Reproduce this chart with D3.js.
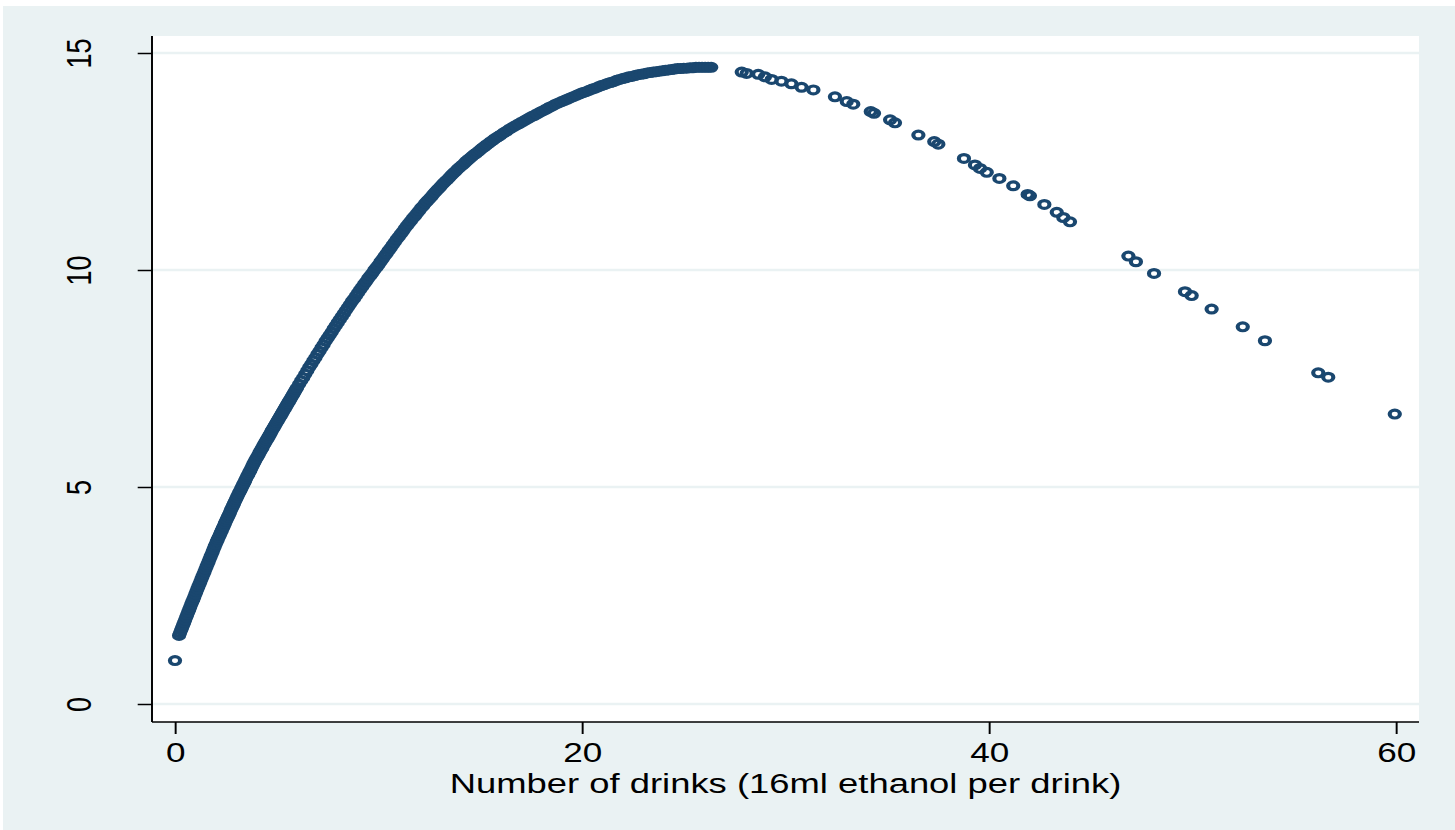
<!DOCTYPE html>
<html>
<head>
<meta charset="utf-8">
<title>Number of drinks</title>
<script src="https://d3js.org/d3.v7.min.js"></script>
<style>
  body { margin: 0; background: #fff; }
  text { font-family: "Liberation Sans", Arial, Helvetica, sans-serif; fill: #000; }
  .grid line { stroke: #eaf2f3; stroke-width: 2.5; }
  .axis .domain { display: none; }
  .axis line { stroke: #000; stroke-width: 1.5; }
  .axis text { font-size: 27px; }
  .frame { stroke: #000; stroke-width: 1.5; }
  .dot { fill: none; stroke: #1a476f; stroke-width: 3.2; }
  .title { font-size: 28px; }
</style>
</head>
<body>
<script>
// values: [drinks, predicted value]
var abstainers = [[0, 1.0]];

var risingPart = [
  [0.20,1.58],[0.25,1.64],[0.30,1.70],[0.35,1.76],[0.40,1.82],[0.45,1.88],[0.50,1.94],[0.55,2.00],[0.60,2.06],[0.65,2.12],
  [0.70,2.18],[0.75,2.24],[0.80,2.30],[0.85,2.36],[0.90,2.41],[0.95,2.47],[1.00,2.53],[1.05,2.59],[1.10,2.65],[1.15,2.71],
  [1.20,2.76],[1.25,2.82],[1.30,2.88],[1.35,2.94],[1.40,2.99],[1.45,3.05],[1.50,3.11],[1.55,3.17],[1.60,3.22],[1.65,3.28],
  [1.70,3.34],[1.75,3.40],[1.80,3.45],[1.85,3.51],[1.90,3.57],[1.95,3.63],[2.00,3.68],[2.05,3.74],[2.10,3.79],[2.15,3.84],
  [2.20,3.89],[2.25,3.95],[2.30,4.00],[2.35,4.05],[2.40,4.10],[2.45,4.16],[2.50,4.21],[2.55,4.26],[2.60,4.31],[2.65,4.36],
  [2.70,4.41],[2.75,4.47],[2.80,4.52],[2.85,4.57],[2.90,4.62],[2.95,4.67],[3.00,4.72],[3.05,4.77],[3.10,4.82],[3.15,4.87],
  [3.20,4.91],[3.25,4.96],[3.30,5.01],[3.35,5.06],[3.40,5.10],[3.45,5.15],[3.50,5.20],[3.55,5.25],[3.60,5.29],[3.65,5.34],
  [3.70,5.38],[3.75,5.43],[3.80,5.48],[3.85,5.53],[3.90,5.57],[3.95,5.62],[4.00,5.66],[4.05,5.70],[4.10,5.74],[4.15,5.79],
  [4.20,5.83],[4.25,5.87],[4.30,5.91],[4.35,5.96],[4.40,6.00],[4.45,6.04],[4.50,6.08],[4.55,6.12],[4.60,6.16],[4.65,6.20],
  [4.70,6.24],[4.75,6.29],[4.80,6.33],[4.85,6.37],[4.90,6.41],[4.95,6.45],[5.00,6.49],[5.05,6.53],[5.10,6.57],[5.15,6.61],
  [5.20,6.65],[5.25,6.69],[5.30,6.73],[5.35,6.77],[5.40,6.81],[5.45,6.85],[5.50,6.89],[5.55,6.93],[5.60,6.97],[5.65,7.01],
  [5.70,7.05],[5.75,7.09],[5.80,7.13],[5.85,7.17],[5.90,7.21],[5.95,7.25],[6.00,7.29]
];

var middlePart = [
  [6.1,7.37],[6.2,7.45],[6.3,7.52],[6.4,7.60],[6.5,7.68],[6.6,7.76],[6.7,7.83],[6.8,7.91],[6.9,7.98],[7.0,8.06],
  [7.1,8.13],[7.2,8.21],[7.3,8.28],[7.4,8.36],[7.5,8.43],[7.6,8.50],[7.7,8.57],[7.8,8.65],[7.9,8.72],[8.0,8.79],
  [8.1,8.86],[8.2,8.93],[8.3,9.00],[8.4,9.07],[8.5,9.14],[8.6,9.21],[8.7,9.28],[8.8,9.34],[8.9,9.41],[9.0,9.48],
  [9.1,9.55],[9.2,9.61],[9.3,9.68],[9.4,9.74],[9.5,9.81],[9.6,9.87],[9.7,9.93],[9.8,10.00],[9.9,10.06],[10.0,10.12],
  [10.1,10.19],[10.2,10.25],[10.3,10.32],[10.4,10.38],[10.5,10.45],[10.6,10.51],[10.7,10.58],[10.8,10.64],[10.9,10.71],[11.0,10.77],
  [11.1,10.83],[11.2,10.89],[11.3,10.96],[11.4,11.02],[11.5,11.08],[11.6,11.14],[11.7,11.20],[11.8,11.25],[11.9,11.31],[12.0,11.37],
  [12.1,11.43],[12.2,11.48],[12.3,11.54],[12.4,11.59],[12.5,11.64],[12.6,11.69],[12.7,11.75],[12.8,11.80],[12.9,11.85],[13.0,11.90],
  [13.1,11.95],[13.2,12.00],[13.3,12.05],[13.4,12.09],[13.5,12.14],[13.6,12.19],[13.7,12.24],[13.8,12.28],[13.9,12.33],[14.0,12.37],
  [14.1,12.41],[14.2,12.45],[14.3,12.50],[14.4,12.54],[14.5,12.58],[14.6,12.62],[14.7,12.66],[14.8,12.69],[14.9,12.73],[15.0,12.77],
  [15.1,12.81],[15.2,12.84],[15.3,12.88],[15.4,12.91],[15.5,12.95],[15.6,12.98],[15.7,13.02],[15.8,13.05],[15.9,13.08],[16.0,13.11]
];

var bendPart = [
  [16.15,13.16],[16.30,13.20],[16.45,13.25],[16.60,13.29],[16.75,13.33],[16.90,13.37],[17.05,13.41],[17.20,13.45],[17.35,13.49],
  [17.50,13.53],[17.65,13.56],[17.80,13.60],[17.95,13.64],[18.10,13.67],[18.25,13.71],[18.40,13.75],[18.55,13.78],[18.70,13.82],
  [18.85,13.85],[19.00,13.88],[19.15,13.91],[19.30,13.94],[19.45,13.97],[19.60,14.00],[19.75,14.03],[19.90,14.06],[20.05,14.09]
];

var peakPart = [
  [20.20,14.11],[20.35,14.14],[20.50,14.17],[20.65,14.19],[20.80,14.22],[20.95,14.25],[21.10,14.27],[21.25,14.30],[21.40,14.32],
  [21.55,14.34],[21.70,14.37],[21.85,14.39],[22.00,14.41],[22.15,14.43],[22.30,14.45],[22.45,14.46],[22.60,14.48],[22.75,14.50],
  [22.90,14.51],[23.05,14.52],[23.20,14.54],[23.35,14.55],[23.50,14.56],[23.65,14.57],[23.80,14.58],[23.95,14.59],[24.10,14.60],
  [24.25,14.61],[24.40,14.62],[24.55,14.63],[24.70,14.64],[24.85,14.64],[25.00,14.65],[25.15,14.65],[25.30,14.66],[25.45,14.66],
  [25.60,14.67],[25.75,14.67],[25.90,14.67],[26.05,14.67],[26.20,14.67],[26.35,14.67]
];

var tailPart = [
  [27.85,14.56],[28.09,14.53],[28.66,14.51],[28.99,14.45],[29.32,14.39],[29.80,14.35],[30.29,14.29],[30.79,14.21],
  [31.37,14.15],[32.43,13.99],[33.01,13.88],[33.33,13.82],[34.19,13.65],[34.35,13.61],[35.14,13.46],[35.38,13.39],
  [36.53,13.11],[37.31,12.96],[37.51,12.90],[38.77,12.57],[39.31,12.42],[39.56,12.34],[39.89,12.25],[40.51,12.11],
  [41.19,11.94],[41.90,11.74],[42.01,11.71],[42.72,11.51],[43.33,11.33],[43.65,11.21],[43.98,11.11],
  [46.85,10.32],[47.22,10.19],[48.11,9.92],[49.63,9.50],[49.96,9.41],[50.94,9.10],[52.47,8.69],[53.56,8.37],
  [56.18,7.63],[56.67,7.53],[59.94,6.68]
];

var xTicks = [0, 20, 40, 60];
var yTicks = [0, 5, 10, 15];
var xTitle = "Number of drinks (16ml ethanol per drink)";

// the picture is stretched sideways, so draw in a narrower space and let the viewBox widen it
var stretch = 1.3,
    width = 1455,
    height = 830,
    innerW = width / stretch;

var plot = { left: 152 / stretch, right: 1419 / stretch, top: 36, bottom: 722 };

var svg = d3.select("body").append("svg")
    .attr("width", width)
    .attr("height", height)
    .attr("viewBox", "0 0 " + innerW + " " + height)
    .attr("preserveAspectRatio", "none");

svg.append("rect")
    .attr("x", 3 / stretch)
    .attr("y", 6)
    .attr("width", innerW)
    .attr("height", height)
    .attr("fill", "#eaf2f3");

svg.append("rect")
    .attr("x", plot.left)
    .attr("y", plot.top)
    .attr("width", plot.right - plot.left)
    .attr("height", plot.bottom - plot.top)
    .attr("fill", "#fff");

var x = d3.scaleLinear()
    .domain([0, 60])
    .range([175 / stretch, 1396 / stretch]);

var y = d3.scaleLinear()
    .domain([0, 15])
    .range([704, 53]);

svg.append("g")
    .attr("class", "grid")
  .selectAll("line")
    .data(yTicks)
    .enter().append("line")
    .attr("x1", plot.left)
    .attr("x2", plot.right)
    .attr("y1", function(d) { return y(d); })
    .attr("y2", function(d) { return y(d); });

var points = abstainers.concat(risingPart, middlePart, bendPart, peakPart, tailPart);

svg.append("g")
  .selectAll("circle")
    .data(points)
    .enter().append("circle")
    .attr("class", "dot")
    .attr("cx", function(d) { return x(d[0]); })
    .attr("cy", function(d) { return y(d[1]); })
    .attr("r", 3.9);

// axes
var xAxis = svg.append("g")
    .attr("class", "axis")
    .attr("transform", "translate(0," + plot.bottom + ")")
    .call(d3.axisBottom(x).tickValues(xTicks).tickSize(12).tickSizeOuter(0));

xAxis.selectAll("text")
    .attr("y", 40)
    .attr("dy", null);

var yAxis = svg.append("g")
    .attr("class", "axis")
    .attr("transform", "translate(" + plot.left + ",0)")
    .call(d3.axisLeft(y).tickValues(yTicks).tickSize(11).tickSizeOuter(0));

yAxis.selectAll("text")
    .attr("x", null)
    .attr("dy", null)
    .attr("text-anchor", "middle")
    .attr("transform", "translate(" + (91 / stretch - plot.left) + ",0) rotate(-90)");

svg.append("line")
    .attr("class", "frame")
    .attr("x1", plot.left).attr("x2", plot.left)
    .attr("y1", plot.top).attr("y2", plot.bottom);

svg.append("line")
    .attr("class", "frame")
    .attr("x1", plot.left).attr("x2", plot.right)
    .attr("y1", plot.bottom).attr("y2", plot.bottom);

svg.append("text")
    .attr("class", "title")
    .attr("x", (plot.left + plot.right) / 2)
    .attr("y", 793)
    .attr("text-anchor", "middle")
    .text(xTitle);
</script>
</body>
</html>
